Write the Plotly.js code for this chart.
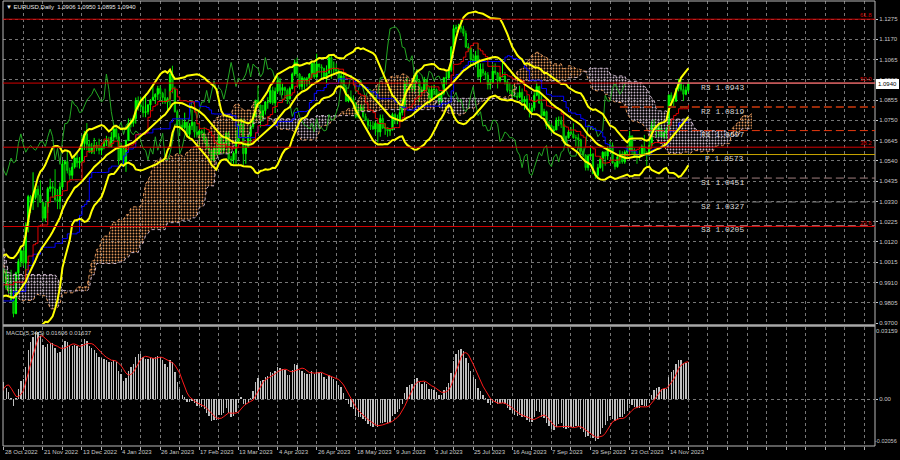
<!DOCTYPE html>
<html><head><meta charset="utf-8">
<script src="https://cdn.plot.ly/plotly-3.0.1.min.js"></script>
<style>html,body{margin:0;padding:0;background:#000;}#chart{width:900px;height:460px;}</style>
</head><body><div id="chart"></div>
<script>
// ---- EURUSD daily: bars before the visible window (13 Jul 2022 - 27 Oct 2022), needed by the indicators
const preClose = [1.0061,1.0019,1.0080,
1.0141,1.0226,1.0180,1.0230,1.0212, 1.0222,1.0121,1.0201,1.0197,1.0225,
1.0260,1.0165,1.0167,1.0246,1.0180, 1.0195,1.0211,1.0298,1.0318,1.0260,
1.0160,1.0170,1.0178,1.0088,1.0040, 0.9942,0.9967,0.9970,0.9975,0.9965,
1.0000,1.0015,1.0055, 0.9945,0.9955,
0.9925,0.9905,1.0010,1.0000,1.0040, 1.0120,0.9975,0.9980,0.9995,1.0015,
1.0025,0.9970,0.9835,0.9838,0.9690, 0.9605,0.9595,0.9735,0.9815,0.9800,
0.9825,0.9985,0.9885,0.9790,0.9740, 0.9700,0.9705,0.9705,0.9780,0.9720,
0.9840,0.9865,0.9770,0.9780,0.9860, 0.9875,0.9965,1.0080,0.9965];
const preHigh = [1.0122,1.0091,1.0097,
1.0200,1.0233,1.0273,1.0278,1.0258, 1.0255,1.0238,1.0211,1.0234,1.0254,
1.0274,1.0294,1.0209,1.0254,1.0250, 1.0248,1.0249,1.0368,1.0365,1.0330,
1.0262,1.0202,1.0202,1.0191,1.0096, 1.0035,1.0018,0.9999,1.0029,1.0090,
1.0028,1.0054,1.0079, 1.0051,1.0033,
0.9951,0.9990,1.0012,1.0030,1.0113, 1.0198,1.0187,1.0020,1.0017,1.0036,
1.0031,1.0051,0.9976,0.9908,0.9852, 0.9705,0.9671,0.9748,0.9817,0.9854,
0.9852,0.9999,0.9999,0.9897,0.9823, 0.9750,0.9749,0.9739,0.9808,0.9809,
0.9873,0.9876,0.9875,0.9848,0.9871, 0.9903,0.9976,1.0093,1.0088];
const preLow = [0.9998,0.9952,1.0005,
1.0075,1.0130,1.0160,1.0153,1.0130, 1.0183,1.0110,1.0095,1.0113,1.0145,
1.0196,1.0160,1.0123,1.0150,1.0141, 1.0160,1.0180,1.0207,1.0290,1.0229,
1.0150,1.0122,1.0132,1.0080,1.0034, 0.9926,0.9901,0.9910,0.9935,0.9947,
0.9914,0.9968,0.9987, 0.9910,0.9940,
0.9877,0.9864,0.9875,0.9930,0.9995, 1.0040,0.9965,0.9955,0.9956,0.9945,
0.9966,0.9965,0.9810,0.9807,0.9670, 0.9552,0.9571,0.9536,0.9635,0.9750,
0.9750,0.9812,0.9835,0.9775,0.9730, 0.9670,0.9663,0.9670,0.9632,0.9710,
0.9724,0.9805,0.9760,0.9705,0.9704, 0.9808,0.9866,0.9962,0.9955];

// ---- visible daily bars, 28 Oct 2022 - 24 Nov 2023 (one row per week)
const close = [0.9965,
0.9882,0.9877,0.9818,0.9749,0.9960, 1.0019,1.0074,1.0011,1.0206,1.0355,
1.0325,1.0350,1.0394,1.0364,1.0325, 1.0243,1.0302,1.0396,1.0406,1.0398,
1.0340,1.0330,1.0405,1.0524,1.0536, 1.0490,1.0465,1.0508,1.0555,1.0530,
1.0538,1.0630,1.0680,1.0626,1.0585, 1.0607,1.0620,1.0605,1.0595,1.0615,
1.0638,1.0640,1.0614,1.0663,1.0705, 1.0665,1.0545,1.0605,1.0522,1.0645,
1.0733,1.0735,1.0760,1.0852,1.0830, 1.0821,1.0790,1.0795,1.0830,1.0855,
1.0870,1.0885,1.0915,1.0890,1.0868, 1.0845,1.0862,1.0990,1.0910,1.0795,
1.0725,1.0725,1.0712,1.0740,1.0677, 1.0722,1.0740,1.0690,1.0675,1.0695,
1.0685,1.0650,1.0605,1.0595,1.0545, 1.0605,1.0575,1.0665,1.0595,1.0635,
1.0683,1.0550,1.0545,1.0580,1.0640, 1.0730,1.0730,1.0577,1.0610,1.0670,
1.0718,1.0770,1.0855,1.0830,1.0760, 1.0800,1.0845,1.0845,1.0905,1.0840,
1.0900,1.0955,1.0905,1.0920,1.0905, 1.0860,1.0915,1.0990,1.1050,1.0990,
1.0925,1.0970,1.0955,1.0965,1.0990, 1.1045,1.0975,1.1042,1.1027,1.1020,
1.0975,1.0995,1.1075,1.1015,1.1020, 1.1005,1.0960,1.0980,1.0915,1.0850,
1.0870,1.0862,1.0840,1.0770,1.0805, 1.0815,1.0770,1.0750,1.0725,1.0720,
1.0705,1.0735,1.0690,1.0760,1.0710, 1.0712,1.0695,1.0700,1.0780,1.0750,
1.0755,1.0790,1.0830,1.0945,1.0940, 1.0920,1.0915,1.0985,1.0955,1.0895,
1.0905,1.0960,1.0910,1.0865,1.0910, 1.0910,1.0880,1.0850,1.0890,1.0970,
1.0970,1.1010,1.1130,1.1225,1.1230, 1.1235,1.1225,1.1200,1.1130,1.1125,
1.1065,1.1055,1.1085,1.0975,1.1015, 1.0995,1.0985,1.0935,1.0945,1.1005,
1.0995,1.0955,1.0975,1.0980,1.0950, 1.0905,1.0905,1.0875,1.0875,1.0870,
1.0895,1.0845,1.0860,1.0810,1.0795, 1.0815,1.0880,1.0925,1.0840,1.0775,
1.0795,1.0720,1.0725,1.0695,1.0700, 1.0750,1.0750,1.0730,1.0640,1.0660,
1.0690,1.0680,1.0660,1.0660,1.0650, 1.0590,1.0570,1.0505,1.0565,1.0575,
1.0475,1.0465,1.0505,1.0550,1.0585, 1.0565,1.0605,1.0620,1.0530,1.0510,
1.0560,1.0575,1.0535,1.0585,1.0595, 1.0670,1.0590,1.0565,1.0565,1.0565,
1.0615,1.0575,1.0570,1.0620,1.0725, 1.0720,1.0700,1.0710,1.0665,1.0685,
1.0700,1.0880,1.0850,1.0850,1.0915, 1.0940,1.0910,1.0885,1.0906,1.0940];
const high = [0.9983,
0.9976,0.9954,0.9976,0.9840,0.9966, 1.0033,1.0094,1.0078,1.0222,1.0364,
1.0363,1.0481,1.0407,1.0412,1.0440, 1.0330,1.0325,1.0405,1.0448,1.0430,
1.0497,1.0394,1.0429,1.0545,1.0545, 1.0594,1.0505,1.0530,1.0565,1.0585,
1.0560,1.0673,1.0695,1.0736,1.0649, 1.0633,1.0659,1.0638,1.0655,1.0630,
1.0650,1.0670,1.0665,1.0690,1.0714, 1.0713,1.0683,1.0635,1.0620,1.0650,
1.0760,1.0760,1.0775,1.0868,1.0874, 1.0873,1.0867,1.0887,1.0835,1.0860,
1.0927,1.0890,1.0929,1.0930,1.0898, 1.0914,1.0870,1.1000,1.1033,1.0925,
1.0805,1.0760,1.0758,1.0790,1.0735, 1.0735,1.0805,1.0740,1.0720,1.0700,
1.0703,1.0715,1.0665,1.0625,1.0600, 1.0615,1.0645,1.0690,1.0670,1.0635,
1.0694,1.0695,1.0565,1.0590,1.0700, 1.0735,1.0760,1.0759,1.0630,1.0673,
1.0730,1.0787,1.0855,1.0930,1.0830, 1.0830,1.0850,1.0870,1.0925,1.0925,
1.0920,1.0973,1.0970,1.0940,1.0925, 1.0915,1.0925,1.0998,1.1065,1.1075,
1.0995,1.0980,1.0972,1.0975,1.0995, 1.1050,1.1055,1.1095,1.1035,1.1040,
1.1020,1.1035,1.1090,1.1090,1.1055, 1.1045,1.1015,1.1000,1.0995,1.0935,
1.0885,1.0905,1.0880,1.0845,1.0830, 1.0833,1.0830,1.0785,1.0760,1.0745,
1.0745,1.0745,1.0735,1.0780,1.0780, 1.0735,1.0715,1.0710,1.0790,1.0790,
1.0780,1.0823,1.0865,1.0955,1.0970, 1.0940,1.0935,1.0990,1.1012,1.0965,
1.0925,1.0975,1.0965,1.0925,1.0930, 1.0935,1.0915,1.0900,1.0900,1.0975,
1.1000,1.1025,1.1135,1.1245,1.1245, 1.1250,1.1275,1.1240,1.1215,1.1150,
1.1125,1.1095,1.1110,1.1150,1.1045, 1.1045,1.1005,1.1000,1.0960,1.1040,
1.1045,1.1000,1.1000,1.1065,1.1000, 1.0960,1.0945,1.0935,1.0930,1.0895,
1.0930,1.0915,1.0875,1.0880,1.0840, 1.0830,1.0895,1.0945,1.0930,1.0880,
1.0810,1.0800,1.0745,1.0735,1.0720, 1.0765,1.0770,1.0770,1.0765,1.0670,
1.0700,1.0715,1.0735,1.0675,1.0680, 1.0655,1.0605,1.0575,1.0575,1.0610,
1.0580,1.0485,1.0525,1.0565,1.0590, 1.0590,1.0615,1.0640,1.0635,1.0535,
1.0565,1.0595,1.0590,1.0595,1.0620, 1.0695,1.0670,1.0605,1.0575,1.0595,
1.0625,1.0675,1.0590,1.0665,1.0745, 1.0755,1.0725,1.0725,1.0725,1.0690,
1.0715,1.0885,1.0895,1.0870,1.0915, 1.0965,1.0965,1.0935,1.0925,1.0950];
const low = [0.9913,
0.9871,0.9853,0.9815,0.9730,0.9746, 0.9923,0.9990,0.9995,0.9935,1.0170,
1.0270,1.0286,1.0340,1.0300,1.0322, 1.0224,1.0227,1.0270,1.0380,1.0350,
1.0326,1.0290,1.0290,1.0395,1.0430, 1.0475,1.0443,1.0445,1.0500,1.0506,
1.0500,1.0528,1.0597,1.0595,1.0584, 1.0576,1.0575,1.0590,1.0574,1.0570,
1.0600,1.0617,1.0610,1.0610,1.0645, 1.0651,1.0520,1.0545,1.0510,1.0483,
1.0645,1.0713,1.0717,1.0733,1.0800, 1.0800,1.0766,1.0766,1.0780,1.0800,
1.0852,1.0835,1.0855,1.0845,1.0835, 1.0835,1.0800,1.0825,1.0890,1.0790,
1.0710,1.0670,1.0700,1.0703,1.0660, 1.0660,1.0700,1.0660,1.0660,1.0612,
1.0660,1.0630,1.0600,1.0575,1.0535, 1.0533,1.0570,1.0575,1.0580,1.0575,
1.0615,1.0535,1.0516,1.0525,1.0525, 1.0630,1.0685,1.0516,1.0525,1.0610,
1.0630,1.0705,1.0765,1.0820,1.0713, 1.0745,1.0780,1.0810,1.0835,1.0830,
1.0788,1.0890,1.0880,1.0880,1.0875, 1.0835,1.0860,1.0910,1.0980,1.0970,
1.0910,1.0908,1.0910,1.0925,1.0935, 1.0970,1.0965,1.0965,1.0995,1.0965,
1.0965,1.0943,1.0990,1.0965,1.0990, 1.0990,1.0940,1.0942,1.0905,1.0845,
1.0843,1.0845,1.0810,1.0760,1.0760, 1.0797,1.0760,1.0745,1.0705,1.0700,
1.0700,1.0675,1.0635,1.0665,1.0705, 1.0675,1.0665,1.0670,1.0700,1.0730,
1.0730,1.0740,1.0775,1.0795,1.0925, 1.0910,1.0895,1.0900,1.0945,1.0845,
1.0880,1.0900,1.0895,1.0835,1.0865, 1.0880,1.0865,1.0835,1.0835,1.0880,
1.0935,1.0965,1.1000,1.1125,1.1205, 1.1210,1.1205,1.1185,1.1125,1.1105,
1.1025,1.1045,1.1025,1.0965,1.0945, 1.0980,1.0960,1.0910,1.0910,1.0940,
1.0985,1.0915,1.0945,1.0975,1.0935, 1.0895,1.0885,1.0865,1.0870,1.0855,
1.0865,1.0840,1.0805,1.0805,1.0765, 1.0790,1.0800,1.0875,1.0835,1.0765,
1.0770,1.0705,1.0700,1.0685,1.0685, 1.0700,1.0720,1.0710,1.0630,1.0630,
1.0655,1.0675,1.0655,1.0615,1.0615, 1.0575,1.0560,1.0490,1.0490,1.0560,
1.0470,1.0448,1.0450,1.0500,1.0485, 1.0515,1.0545,1.0590,1.0525,1.0495,
1.0505,1.0525,1.0525,1.0525,1.0560, 1.0580,1.0575,1.0555,1.0525,1.0545,
1.0560,1.0570,1.0515,1.0565,1.0615, 1.0705,1.0660,1.0665,1.0660,1.0655,
1.0655,1.0695,1.0830,1.0815,1.0845, 1.0900,1.0900,1.0850,1.0880,1.0895];

// ---- axis / label texts
const dateLabels = ['28 Oct 2022','21 Nov 2022','13 Dec 2022','4 Jan 2023','26 Jan 2023','17 Feb 2023',
 '13 Mar 2023','4 Apr 2023','26 Apr 2023','18 May 2023','9 Jun 2023','3 Jul 2023','25 Jul 2023',
 '16 Aug 2023','7 Sep 2023','29 Sep 2023','23 Oct 2023','14 Nov 2023'];
const dateLabelBars = [0,16,32,48,64,80,96,112,128,144,160,176,192,208,224,240,256,272];
const priceTicks = [0.9700,0.9805,0.9910,1.0015,1.0120,1.0225,1.0330,1.0435,1.0540,1.0645,1.0750,1.0855,1.0960,1.1065,1.1170,1.1275];
const fibNames = ['23.6','38.2','50.0','61.8'];
const fibLevels = [1.0200,1.0611,1.0943,1.1274];
const pivotNames = ['R3','R2','R1','P','S1','S2','S3'];
const pivotValues = [1.0943,1.0819,1.0697,1.0573,1.0451,1.0327,1.0205];
const pivotColors = ['#f09a9a','#9a2a08','#e83a10','#c8a400','#a07f7f','#7a7a7a','#a06a6a'];
const pivotDash = ['solid','8px,4px','8px,4px','solid','8px,4px','8px,4px','8px,4px'];
const macdTickLabels = ['0.03159','0.00','-0.02056'];
const macdTickValues = [0.03159,0,-0.02056];
const titleText = '\u25BC EURUSD,Daily\u00a0\u00a01.0906 1.0950 1.0895 1.0940';
const macdText = 'MACD(5,34,5) 0.01606 0.01637';
const lastPrice = 1.0940;

// ---- series assembly
const N0 = preClose.length;
const C = preClose.concat(close), H = preHigh.concat(high), L = preLow.concat(low);
const N = C.length;
const bar = j => j - N0;                       // full-series index -> visible bar number
const open = close.map((v,i)=> i===0 ? preClose[N0-1] : close[i-1]); // forex: open = previous close
const xs = close.map((v,i)=>i);

function mid(j,n){ if(j<n-1) return null; let hh=-1e9, ll=1e9;
  for(let k=j-n+1;k<=j;k++){ if(H[k]>hh) hh=H[k]; if(L[k]<ll) ll=L[k]; } return (hh+ll)/2; }

// Ichimoku 9/26/52
const tenX=[],tenY=[],kijX=[],kijY=[],chX=[],chY=[],sA=[],sB=[],sX=[];
for(let j=0;j<N;j++){
  const t=mid(j,9), k=mid(j,26), b=mid(j,52);
  if(t!==null){tenX.push(bar(j));tenY.push(t);}
  if(k!==null){kijX.push(bar(j));kijY.push(k);}
  chX.push(bar(j)-26); chY.push(C[j]);
  if(b!==null){ sX.push(bar(j)+26); sA.push((t+k)/2); sB.push(b); }
}
// Bollinger 20,2
const bbX=[],bbM=[],bbU=[],bbL=[];
for(let j=19;j<N;j++){ let s=0; for(let k=j-19;k<=j;k++) s+=C[k]; const m=s/20;
  let v=0; for(let k=j-19;k<=j;k++) v+=(C[k]-m)*(C[k]-m); const sd=Math.sqrt(v/20);
  bbX.push(bar(j)); bbM.push(m); bbU.push(m+2*sd); bbL.push(m-2*sd); }
// MACD 5,34,5
const e5=[],e34=[],mac=[],sig=[];
for(let j=0;j<N;j++){ if(j===0){e5.push(C[0]);e34.push(C[0]);}
  else { e5.push(e5[j-1]+(2/6)*(C[j]-e5[j-1])); e34.push(e34[j-1]+(2/35)*(C[j]-e34[j-1])); }
  mac.push(e5[j]-e34[j]);
  if(j>=4){ let s=0; for(let k=j-4;k<=j;k++) s+=mac[k]; sig.push(s/5);} else sig.push(null); }
const mX=[],mY=[],mS=[];
for(let j=N0-2;j<N;j++){ mX.push(bar(j)); mY.push(mac[j]); mS.push(sig[j]); }

// ---- traces
const traces=[];
// cloud: split into bullish / bearish runs
const BULL='#e0955a', BEAR='#c8b4c8';
let runs=[], cur=null;
for(let i=0;i<sX.length;i++){
  const up = sA[i]>=sB[i];
  if(!cur || cur.up!==up){ const r={up,x:[],a:[],b:[]};
    if(cur){ r.x.push(sX[i-1]); r.a.push(sA[i-1]); r.b.push(sB[i-1]); }
    runs.push(r); cur=r; }
  cur.x.push(sX[i]); cur.a.push(sA[i]); cur.b.push(sB[i]);
}
runs.forEach(r=>{
  const col = r.up?BULL:BEAR;
  traces.push({x:r.x,y:r.b,type:'scatter',mode:'lines',line:{width:0,color:col},hoverinfo:'skip',xaxis:'x',yaxis:'y'});
  traces.push({x:r.x,y:r.a,type:'scatter',mode:'lines',line:{width:0,color:col},fill:'tonexty',
    fillcolor:'rgba(0,0,0,0)',fillpattern:{shape:'.',fgcolor:col,bgcolor:'rgba(0,0,0,0)',size:3,solidity:0.3},
    hoverinfo:'skip',xaxis:'x',yaxis:'y'});
});
traces.push({x:sX,y:sA,type:'scatter',mode:'lines',line:{color:BULL,width:1,dash:'dot'},hoverinfo:'skip'});
traces.push({x:sX,y:sB,type:'scatter',mode:'lines',line:{color:BEAR,width:1,dash:'dot'},hoverinfo:'skip'});
// candles
traces.push({type:'candlestick',x:xs,open:open,high:high,low:low,close:close,xaxis:'x',yaxis:'y',
  increasing:{line:{color:'#00ff00',width:1},fillcolor:'#00ff00'},
  decreasing:{line:{color:'#00d000',width:1},fillcolor:'#008c00'},whiskerwidth:0,hoverinfo:'skip'});
// ichimoku lines
traces.push({x:chX,y:chY,type:'scatter',mode:'lines',line:{color:'#22a822',width:1},hoverinfo:'skip'});
traces.push({x:kijX,y:kijY,type:'scatter',mode:'lines',line:{color:'#0000ff',width:1,shape:'hv'},hoverinfo:'skip'});
traces.push({x:tenX,y:tenY,type:'scatter',mode:'lines',line:{color:'#e00000',width:1,shape:'hv'},hoverinfo:'skip'});
// bollinger
[bbU,bbM,bbL].forEach(s=>traces.push({x:bbX,y:s,type:'scatter',mode:'lines',line:{color:'#ffff00',width:2},hoverinfo:'skip'}));
// macd
traces.push({x:mX,y:mY,type:'bar',xaxis:'x',yaxis:'y2',marker:{color:'#c0c0c0',line:{width:0}},width:0.55,hoverinfo:'skip'});
traces.push({x:mX,y:mS,type:'scatter',mode:'lines',xaxis:'x',yaxis:'y2',line:{color:'#ff1a1a',width:1},hoverinfo:'skip'});

// ---- layout
const TOP=1, MAINBOT=324, MACDTOP=327, BOT=446, PH=BOT-TOP;
const fr = y => (BOT-y)/PH;
const grid = {showgrid:true,gridcolor:'#767676',griddash:'dot',gridwidth:1,zeroline:false,showline:false};
const gridVals=[]; for(let v=0;v<=352;v+=8) gridVals.push(v);
const font = 'Liberation Sans, Arial, sans-serif';
const shapes=[], ann=[];
const frameCol='#b8b8b8';
shapes.push({type:'line',xref:'paper',yref:'paper',x0:0,x1:1,y0:1,y1:1,line:{color:frameCol,width:1}});
shapes.push({type:'line',xref:'paper',yref:'paper',x0:0,x1:1,y0:0,y1:0,line:{color:frameCol,width:1}});
shapes.push({type:'line',xref:'paper',yref:'paper',x0:0,x1:0,y0:0,y1:1,line:{color:frameCol,width:1}});
shapes.push({type:'line',xref:'paper',yref:'paper',x0:1,x1:1,y0:0,y1:1,line:{color:frameCol,width:1}});
shapes.push({type:'line',xref:'paper',yref:'paper',x0:0,x1:1,y0:fr(325.5),y1:fr(325.5),line:{color:'#a8a8a8',width:2.5}});
fibLevels.forEach((v,i)=>{
  shapes.push({type:'line',xref:'paper',yref:'y',x0:0,x1:1,y0:v,y1:v,line:{color:'#d40000',width:1}});
  ann.push({xref:'paper',yref:'y',x:1,y:v,xanchor:'right',yanchor:'bottom',xshift:-1,yshift:-1,text:fibNames[i],
    showarrow:false,font:{family:font,size:6,color:'#d40000'}});
});
const pivotStart=252, pivotEnd=357;
pivotValues.forEach((v,i)=>{
  shapes.push({type:'line',xref:'x',yref:'y',x0:pivotStart,x1:pivotEnd,y0:v,y1:v,
    line:{color:pivotColors[i],width:i===1?2:1,dash:pivotDash[i]}});
  ann.push({xref:'x',yref:'y',x:303.6,y:v,xanchor:'right',yanchor:'middle',yshift:-4,
    text:pivotNames[i]+' '+v.toFixed(4),showarrow:false,
    font:{family:'Liberation Mono, DejaVu Sans Mono, monospace',size:8,color:'#d4d4d4'}});
});
dateLabels.forEach((t,i)=>ann.push({xref:'x',yref:'paper',x:dateLabelBars[i],y:0,xanchor:'left',yanchor:'top',
  yshift:-1,xshift:-1,text:t,showarrow:false,font:{family:font,size:6,color:'#c8c8c8'}}));
ann.push({xref:'paper',yref:'paper',x:0,y:1,xanchor:'left',yanchor:'top',xshift:1,yshift:-1,text:titleText,
  showarrow:false,font:{family:font,size:6,color:'#e8e8e8'}});
ann.push({xref:'paper',yref:'paper',x:0,y:fr(MACDTOP),xanchor:'left',yanchor:'top',xshift:1,yshift:-1,text:macdText,
  showarrow:false,font:{family:font,size:6,color:'#c8c8c8'}});
ann.push({xref:'paper',yref:'paper',x:1,y:fr(MACDTOP),xanchor:'left',yanchor:'top',xshift:0,text:macdTickLabels[0],
  showarrow:false,borderpad:0,font:{family:font,size:6,color:'#c8c8c8'}});
ann.push({xref:'paper',yref:'paper',x:1,y:0,xanchor:'left',yanchor:'bottom',xshift:-1,yshift:1,text:macdTickLabels[2],
  showarrow:false,borderpad:0,font:{family:font,size:5.5,color:'#c8c8c8'}});
ann.push({xref:'paper',yref:'y',x:1,y:lastPrice,xanchor:'left',yanchor:'middle',xshift:1,text:lastPrice.toFixed(4),
  showarrow:false,bgcolor:'#ffffff',bordercolor:'#ffffff',borderpad:1,font:{family:font,size:6,color:'#000000'}});

const layout={width:900,height:460,paper_bgcolor:'#000',plot_bgcolor:'#000',
  margin:{l:3,r:25,t:TOP,b:460-BOT},showlegend:false,hovermode:false,dragmode:false,bargap:0,
  xaxis:Object.assign({range:[-0.3,356.35],anchor:'y2',tickmode:'array',tickvals:gridVals,showticklabels:false,
    ticks:'outside',ticklen:3,tickcolor:'#b0b0b0',rangeslider:{visible:false},fixedrange:true},grid),
  yaxis:Object.assign({domain:[fr(MAINBOT),1],range:[0.969511,1.136824],side:'right',anchor:'x',tickmode:'array',
    tickvals:priceTicks,ticktext:priceTicks.map(v=>v.toFixed(4)),ticks:'outside',ticklen:2,tickcolor:'#c8c8c8',
    tickfont:{family:font,size:6,color:'#c8c8c8'},fixedrange:true},grid),
  yaxis2:Object.assign({domain:[0,fr(MACDTOP)],range:[macdTickValues[2],macdTickValues[0]],side:'right',anchor:'x',
    tickmode:'array',tickvals:[macdTickValues[1]],ticktext:[macdTickLabels[1]],ticks:'outside',ticklen:2,tickcolor:'#c8c8c8',
    tickfont:{family:font,size:6,color:'#c8c8c8'},fixedrange:true},grid),
  shapes:shapes,annotations:ann};
Plotly.newPlot('chart',traces,layout,{staticPlot:true,displayModeBar:false});
</script></body></html>
